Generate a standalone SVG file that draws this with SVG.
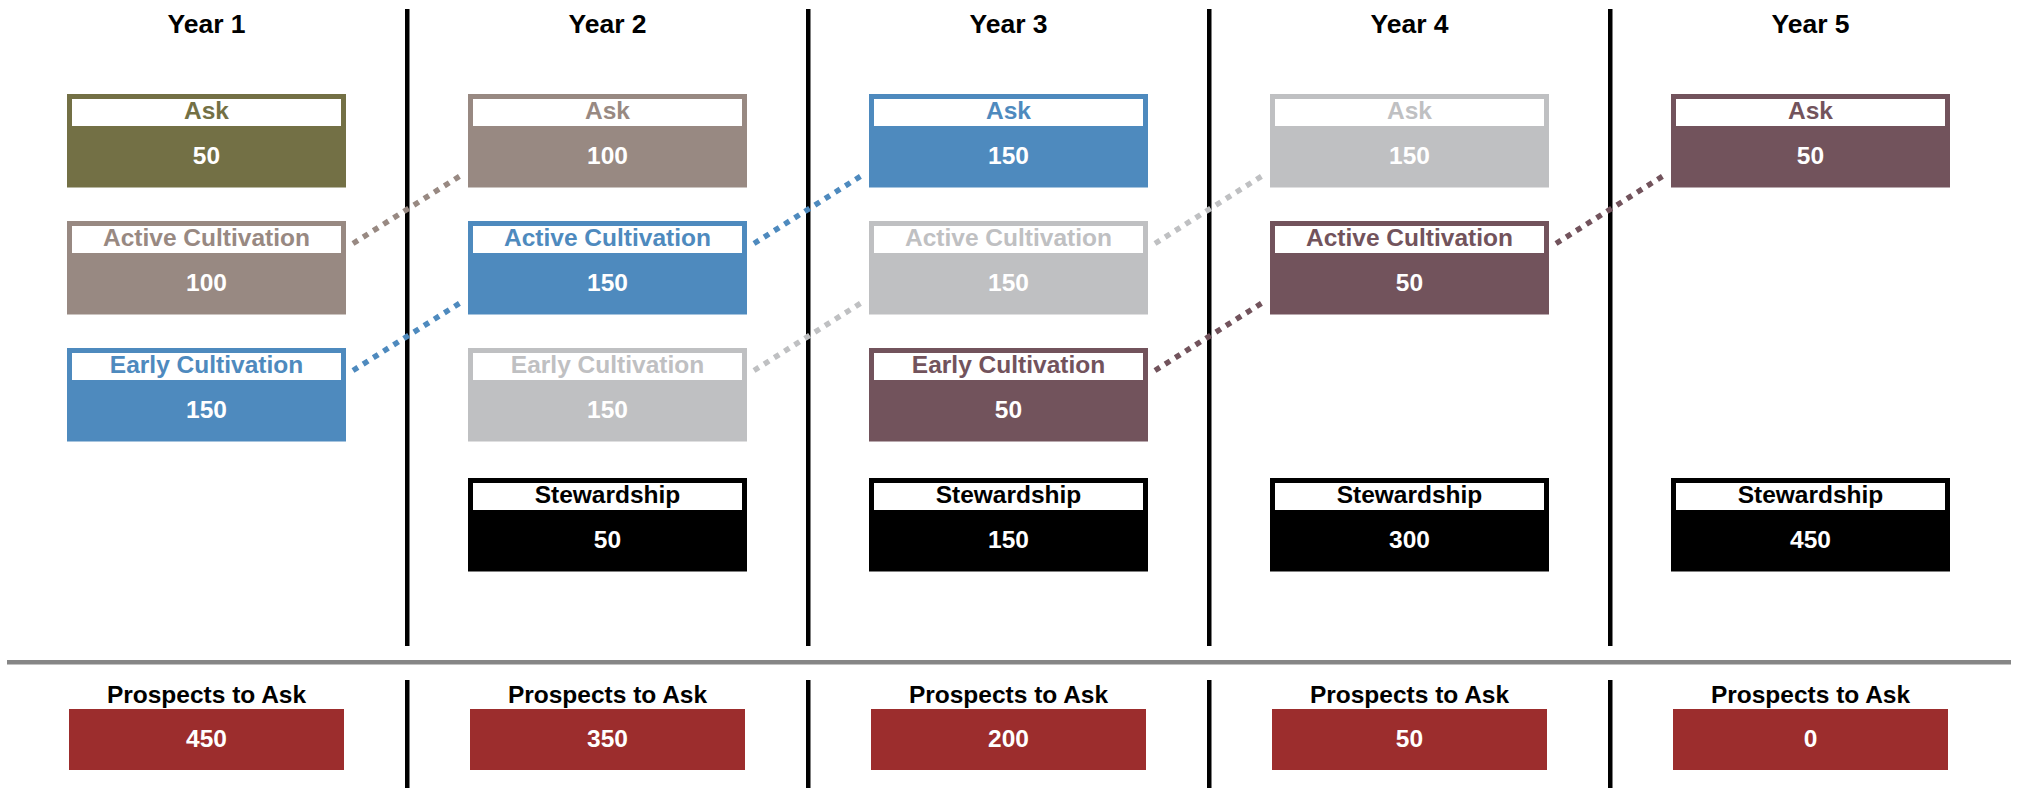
<svg xmlns="http://www.w3.org/2000/svg" width="2019" height="788" viewBox="0 0 2019 788">
<style>
text{font-family:"Liberation Sans",Arial,sans-serif;font-weight:bold;text-anchor:middle}
.yr{font-size:26.5px;fill:#000}
.lbl{font-size:24.5px}
.num{font-size:24.5px;fill:#fff}
.hdr{fill:#fff}
.olive{fill:#737045}
.taupe{fill:#988982}
.blue{fill:#4E8ABE}
.gray{fill:#BFC0C2}
.plum{fill:#72535C}
.black{fill:#000}
.red{fill:#9C2D2D}
.conn{fill:none;stroke-width:5.5;stroke-dasharray:5.8 6.2}
</style>
<rect width="2019" height="788" fill="#fff"/>
<g id="dividers">
<rect x="405" y="9" width="4.5" height="637" fill="#000"/>
<rect x="806" y="9" width="4.5" height="637" fill="#000"/>
<rect x="1207" y="9" width="4.5" height="637" fill="#000"/>
<rect x="1608" y="9" width="4.5" height="637" fill="#000"/>
<rect x="405" y="680" width="4.5" height="108" fill="#000"/>
<rect x="806" y="680" width="4.5" height="108" fill="#000"/>
<rect x="1207" y="680" width="4.5" height="108" fill="#000"/>
<rect x="1608" y="680" width="4.5" height="108" fill="#000"/>
<rect x="7" y="660" width="2004" height="4.5" fill="#868686"/>
</g>
<g id="year-labels">
<text class="yr" x="206.5" y="33">Year 1</text>
<text class="yr" x="607.5" y="33">Year 2</text>
<text class="yr" x="1008.5" y="33">Year 3</text>
<text class="yr" x="1409.5" y="33">Year 4</text>
<text class="yr" x="1810.5" y="33">Year 5</text>
</g>
<g id="connectors">
<line class="conn" stroke="#988982" x1="353" y1="243.5" x2="460" y2="176"/>
<line class="conn" stroke="#4E8ABE" x1="353" y1="370.5" x2="460" y2="303"/>
<line class="conn" stroke="#4E8ABE" x1="754" y1="243.5" x2="861" y2="176"/>
<line class="conn" stroke="#BFC0C2" x1="754" y1="370.5" x2="861" y2="303"/>
<line class="conn" stroke="#BFC0C2" x1="1155" y1="243.5" x2="1262" y2="176"/>
<line class="conn" stroke="#72535C" x1="1155" y1="370.5" x2="1262" y2="303"/>
<line class="conn" stroke="#72535C" x1="1556" y1="243.5" x2="1663" y2="176"/>
</g>
<!-- Year 1 -->
<g id="y1-ask"><rect class="olive" x="67" y="94" width="279" height="93.5"/><rect class="hdr" x="72" y="99" width="269" height="27"/><text class="lbl olive" x="206.5" y="119">Ask</text><text class="num" x="206.5" y="164">50</text></g>
<g id="y1-active"><rect class="taupe" x="67" y="221" width="279" height="93.5"/><rect class="hdr" x="72" y="226" width="269" height="27"/><text class="lbl taupe" x="206.5" y="246">Active Cultivation</text><text class="num" x="206.5" y="291">100</text></g>
<g id="y1-early"><rect class="blue" x="67" y="348" width="279" height="93.5"/><rect class="hdr" x="72" y="353" width="269" height="27"/><text class="lbl blue" x="206.5" y="373">Early Cultivation</text><text class="num" x="206.5" y="418">150</text></g>
<!-- Year 2 -->
<g id="y2-ask"><rect class="taupe" x="468" y="94" width="279" height="93.5"/><rect class="hdr" x="473" y="99" width="269" height="27"/><text class="lbl taupe" x="607.5" y="119">Ask</text><text class="num" x="607.5" y="164">100</text></g>
<g id="y2-active"><rect class="blue" x="468" y="221" width="279" height="93.5"/><rect class="hdr" x="473" y="226" width="269" height="27"/><text class="lbl blue" x="607.5" y="246">Active Cultivation</text><text class="num" x="607.5" y="291">150</text></g>
<g id="y2-early"><rect class="gray" x="468" y="348" width="279" height="93.5"/><rect class="hdr" x="473" y="353" width="269" height="27"/><text class="lbl gray" x="607.5" y="373">Early Cultivation</text><text class="num" x="607.5" y="418">150</text></g>
<g id="y2-stew"><rect class="black" x="468" y="478" width="279" height="93.5"/><rect class="hdr" x="473" y="483" width="269" height="27"/><text class="lbl black" x="607.5" y="503">Stewardship</text><text class="num" x="607.5" y="548">50</text></g>
<!-- Year 3 -->
<g id="y3-ask"><rect class="blue" x="869" y="94" width="279" height="93.5"/><rect class="hdr" x="874" y="99" width="269" height="27"/><text class="lbl blue" x="1008.5" y="119">Ask</text><text class="num" x="1008.5" y="164">150</text></g>
<g id="y3-active"><rect class="gray" x="869" y="221" width="279" height="93.5"/><rect class="hdr" x="874" y="226" width="269" height="27"/><text class="lbl gray" x="1008.5" y="246">Active Cultivation</text><text class="num" x="1008.5" y="291">150</text></g>
<g id="y3-early"><rect class="plum" x="869" y="348" width="279" height="93.5"/><rect class="hdr" x="874" y="353" width="269" height="27"/><text class="lbl plum" x="1008.5" y="373">Early Cultivation</text><text class="num" x="1008.5" y="418">50</text></g>
<g id="y3-stew"><rect class="black" x="869" y="478" width="279" height="93.5"/><rect class="hdr" x="874" y="483" width="269" height="27"/><text class="lbl black" x="1008.5" y="503">Stewardship</text><text class="num" x="1008.5" y="548">150</text></g>
<!-- Year 4 -->
<g id="y4-ask"><rect class="gray" x="1270" y="94" width="279" height="93.5"/><rect class="hdr" x="1275" y="99" width="269" height="27"/><text class="lbl gray" x="1409.5" y="119">Ask</text><text class="num" x="1409.5" y="164">150</text></g>
<g id="y4-active"><rect class="plum" x="1270" y="221" width="279" height="93.5"/><rect class="hdr" x="1275" y="226" width="269" height="27"/><text class="lbl plum" x="1409.5" y="246">Active Cultivation</text><text class="num" x="1409.5" y="291">50</text></g>
<g id="y4-stew"><rect class="black" x="1270" y="478" width="279" height="93.5"/><rect class="hdr" x="1275" y="483" width="269" height="27"/><text class="lbl black" x="1409.5" y="503">Stewardship</text><text class="num" x="1409.5" y="548">300</text></g>
<!-- Year 5 -->
<g id="y5-ask"><rect class="plum" x="1671" y="94" width="279" height="93.5"/><rect class="hdr" x="1676" y="99" width="269" height="27"/><text class="lbl plum" x="1810.5" y="119">Ask</text><text class="num" x="1810.5" y="164">50</text></g>
<g id="y5-stew"><rect class="black" x="1671" y="478" width="279" height="93.5"/><rect class="hdr" x="1676" y="483" width="269" height="27"/><text class="lbl black" x="1810.5" y="503">Stewardship</text><text class="num" x="1810.5" y="548">450</text></g>
<!-- Prospects -->
<g id="p1"><text class="lbl black" x="206.5" y="703">Prospects to Ask</text><rect class="red" x="69" y="709" width="275" height="61"/><text class="num" x="206.5" y="747">450</text></g>
<g id="p2"><text class="lbl black" x="607.5" y="703">Prospects to Ask</text><rect class="red" x="470" y="709" width="275" height="61"/><text class="num" x="607.5" y="747">350</text></g>
<g id="p3"><text class="lbl black" x="1008.5" y="703">Prospects to Ask</text><rect class="red" x="871" y="709" width="275" height="61"/><text class="num" x="1008.5" y="747">200</text></g>
<g id="p4"><text class="lbl black" x="1409.5" y="703">Prospects to Ask</text><rect class="red" x="1272" y="709" width="275" height="61"/><text class="num" x="1409.5" y="747">50</text></g>
<g id="p5"><text class="lbl black" x="1810.5" y="703">Prospects to Ask</text><rect class="red" x="1673" y="709" width="275" height="61"/><text class="num" x="1810.5" y="747">0</text></g>
</svg>
